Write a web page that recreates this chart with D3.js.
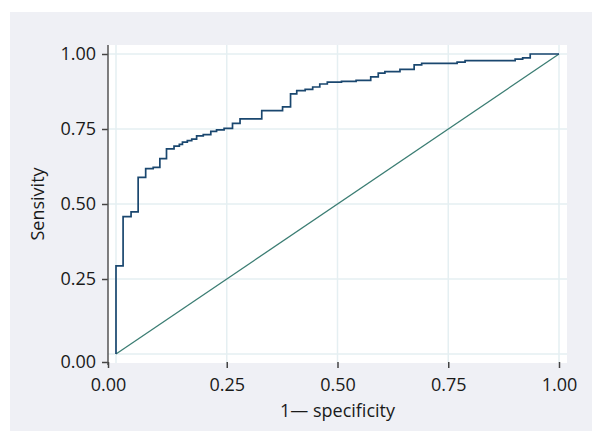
<!DOCTYPE html>
<html>
<head>
<meta charset="utf-8">
<script src="https://cdn.jsdelivr.net/npm/d3@7"></script>
<style>
  body { margin: 0; background: #fff; }
  text { font-family: "Open Sans", "Noto Sans", sans-serif; fill: #1a1a1a; }
</style>
</head>
<body>
<div id="chart"></div>
<script>
// ROC curve points (1 - specificity, sensitivity)
const fpr = [0, 0, 0.016, 0.034, 0.050, 0.067, 0.084, 0.099, 0.114, 0.131, 0.143, 0.150,
  0.161, 0.171, 0.182, 0.197, 0.214, 0.227, 0.244, 0.263, 0.280, 0.329, 0.376, 0.394,
  0.408, 0.427, 0.444, 0.460, 0.477, 0.509, 0.542, 0.575, 0.592, 0.607, 0.641, 0.673,
  0.690, 0.770, 0.788, 0.901, 0.918, 0.935, 1];
const tpr = [0, 0.294, 0.458, 0.474, 0.589, 0.618, 0.622, 0.651, 0.684, 0.693, 0.699, 0.706,
  0.711, 0.716, 0.727, 0.731, 0.742, 0.747, 0.752, 0.769, 0.784, 0.811, 0.824, 0.867,
  0.878, 0.882, 0.890, 0.900, 0.906, 0.909, 0.912, 0.924, 0.936, 0.941, 0.949, 0.964,
  0.969, 0.973, 0.978, 0.983, 0.987, 1.0, 1];
// reference line
const diagX = [0, 1];
const diagY = [0, 1];
const tickValues = [0, 0.25, 0.5, 0.75, 1];

const W = 592, H = 431;
// plot region (white box) and inner padding of the data area
const box = { left: 108, top: 45, right: 567, bottom: 363 };
const pad = { left: 8, right: 8, top: 9, bottom: 9 };
const fontSize = 18;

const svg = d3.select("#chart").append("svg")
    .attr("width", W)
    .attr("height", H);

// outer graph background
svg.append("rect")
    .attr("x", 10).attr("y", 12)
    .attr("width", W - 10).attr("height", H - 12)
    .attr("fill", "#eff0f5");

// plot region
svg.append("rect")
    .attr("x", box.left).attr("y", box.top)
    .attr("width", box.right - box.left).attr("height", box.bottom - box.top)
    .attr("fill", "#fff");

const x = d3.scaleLinear().domain([0, 1]).range([box.left + pad.left, box.right - pad.right]);
const y = d3.scaleLinear().domain([0, 1]).range([box.bottom - pad.bottom, box.top + pad.top]);

// axis scales: the 0.00 tick sits on the axis corner, others on the grid
const xAxisScale = d3.scaleLinear().domain([0, 0.25, 1]).range([box.left, x(0.25), x(1)]);
const yAxisScale = d3.scaleLinear().domain([0, 0.25, 1]).range([box.bottom - 1, y(0.25), y(1)]);

// grid
svg.append("g").selectAll("line.vg").data(tickValues).enter().append("line")
    .attr("x1", d => x(d)).attr("x2", d => x(d))
    .attr("y1", box.top).attr("y2", box.bottom)
    .attr("stroke", "#e5eff2").attr("stroke-width", 1.5);
svg.append("g").selectAll("line.hg").data(tickValues).enter().append("line")
    .attr("y1", d => y(d)).attr("y2", d => y(d))
    .attr("x1", box.left).attr("x2", box.right)
    .attr("stroke", "#e5eff2").attr("stroke-width", 1.5);

// diagonal reference line
const diag = diagX.map((d, i) => [d, diagY[i]]);
svg.append("path")
    .datum(diag)
    .attr("fill", "none")
    .attr("stroke", "#3b7d73")
    .attr("stroke-width", 1.3)
    .attr("d", d3.line().x(d => x(d[0])).y(d => y(d[1])));

// ROC step curve
const roc = fpr.map((d, i) => [d, tpr[i]]);
svg.append("path")
    .datum(roc)
    .attr("fill", "none")
    .attr("stroke", "#1a476f")
    .attr("stroke-width", 1.7)
    .attr("d", d3.line().curve(d3.curveStepAfter).x(d => x(d[0])).y(d => y(d[1])));

// y axis
const yAxis = svg.append("g")
    .attr("transform", "translate(" + box.left + ",0)")
    .call(d3.axisLeft(yAxisScale).tickValues(tickValues).tickFormat(d3.format(".2f"))
        .tickSize(6).tickPadding(6));
yAxis.select(".domain").remove();
yAxis.selectAll(".tick line").attr("stroke", "#444").attr("stroke-width", 1.5);
yAxis.selectAll(".tick text").style("font-size", fontSize + "px").attr("fill", "#1a1a1a")
    .attr("font-family", null);
yAxis.append("line")
    .attr("x1", 0).attr("x2", 0)
    .attr("y1", box.top).attr("y2", box.bottom + 2)
    .attr("stroke", "#555").attr("stroke-width", 1.5);

// x axis
const xAxis = svg.append("g")
    .attr("transform", "translate(0," + (box.bottom - 1) + ")")
    .call(d3.axisBottom(xAxisScale).tickValues(tickValues).tickFormat(d3.format(".2f"))
        .tickSize(6).tickPadding(10));
xAxis.select(".domain").remove();
xAxis.selectAll(".tick line").attr("stroke", "#444").attr("stroke-width", 1.5);
xAxis.selectAll(".tick text").style("font-size", fontSize + "px").attr("fill", "#1a1a1a")
    .attr("font-family", null);

// axis titles
svg.append("text")
    .attr("x", (box.left + box.right) / 2)
    .attr("y", 417)
    .attr("text-anchor", "middle")
    .style("font-size", fontSize + "px")
    .text("1\u2014 specificity");

svg.append("text")
    .attr("transform", "translate(44," + (box.top + box.bottom) / 2 + ") rotate(-90)")
    .attr("text-anchor", "middle")
    .style("font-size", fontSize + "px")
    .text("Sensivity");
</script>
</body>
</html>
